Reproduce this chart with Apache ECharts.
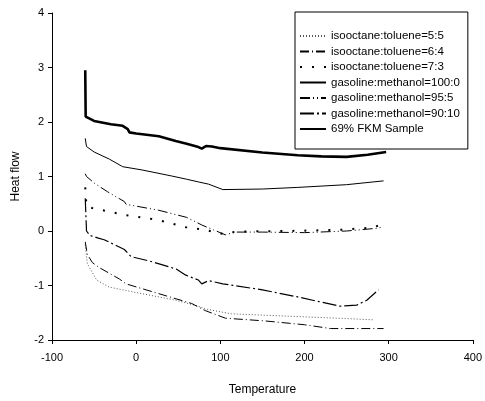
<!DOCTYPE html>
<html>
<head>
<meta charset="utf-8">
<script src="https://cdn.jsdelivr.net/npm/echarts@6/dist/echarts.min.js"></script>
<style>
  body { margin: 0; background: #fff; }
  #chartMain { width: 485px; height: 401px; }
</style>
</head>
<body>
<div id="chartMain"></div>
<script>
    // [temperature, heat flow]
    var iso55 = [[-60.5, -0.25], [-58, -0.6], [-47, -0.9], [-32, -1.03], [7, -1.15], [47, -1.27], [74, -1.38],
        [82, -1.43], [113, -1.52], [192, -1.57], [240, -1.6], [282, -1.63]];
    var iso64 = [[-60.5, -0.2], [-58, -0.43], [-52, -0.58], [-44, -0.67], [-20, -0.88], [-12, -0.97], [27, -1.15],
        [66, -1.33], [82, -1.46], [106, -1.6], [153, -1.65], [200, -1.72], [231, -1.79], [294, -1.79]];
    var iso73 = [[-60.5, 0.8], [-59, 0.45], [-52, 0.42], [-12, 0.29], [27, 0.2], [59, 0.07], [82, 0.02],
        [100, -0.05], [120, -0.01], [180, 0.0], [240, 0.02], [280, 0.06], [292, 0.12]];
    var gas100 = [[-60.5, 1.7], [-59, 1.55], [-50, 1.45], [-32, 1.32], [-16, 1.18], [7, 1.12], [42, 1.01],
        [60, 0.95], [74, 0.9], [86, 0.86], [103, 0.76], [150, 0.77], [192, 0.8], [250, 0.85], [294, 0.92]];
    var gas95 = [[-60.5, 1.05], [-59, 1.0], [-49, 0.87], [-34, 0.72], [-14, 0.54], [-12, 0.49], [27, 0.38],
        [60, 0.25], [78, 0.11], [92, 0.02], [106, -0.07], [118, -0.02], [150, -0.02], [200, -0.03],
        [250, 0.0], [286, 0.05], [292, 0.07]];
    var gas90 = [[-60.5, 0.6], [-59, 0.0], [-55, -0.08], [-45, -0.13], [-38, -0.16], [-14, -0.34], [-6, -0.47],
        [18, -0.56], [48, -0.7], [59, -0.81], [74, -0.9], [78, -0.97], [86, -0.91], [103, -0.97],
        [150, -1.08], [192, -1.21], [242, -1.38], [262, -1.36], [274, -1.27], [288, -1.08]];
    var fkm = [[-60.5, 2.95], [-60, 2.1], [-58, 2.08], [-50, 2.02], [-30, 1.96], [-16, 1.93], [-10, 1.87],
        [-8, 1.81], [0, 1.79], [27, 1.74], [47, 1.65], [60, 1.6], [74, 1.54], [78, 1.51], [83, 1.56],
        [90, 1.55], [100, 1.52], [150, 1.44], [192, 1.39], [220, 1.37], [250, 1.36], [275, 1.4], [297, 1.45]];

    var seriesNames = ['isooctane:toluene=5:5', 'isooctane:toluene=6:4', 'isooctane:toluene=7:3',
        'gasoline:methanol=100:0', 'gasoline:methanol=95:5', 'gasoline:methanol=90:10', '69% FKM Sample'];
    var seriesData = [iso55, iso64, iso73, gas100, gas95, gas90, fkm];
    var lineStyles = [
        { width: 1, type: [1, 2], color: '#555' },
        { width: 1, type: [9, 3, 1, 3], color: '#000' },
        { width: 2, type: [2, 10], color: '#000' },
        { width: 1, type: 'solid', color: '#000' },
        { width: 1, type: [10, 3, 1, 3, 1, 3], color: '#000' },
        { width: 1.2, type: [14, 3, 2, 3], color: '#000' },
        { width: 2.6, type: 'solid', color: '#000' }
    ];

    var myChart = echarts.init(document.getElementById('chartMain'));
    var font = 'Liberation Sans, Arial, sans-serif';

    myChart.setOption({
        animation: false,
        textStyle: { fontFamily: font },
        grid: { left: 52, right: 8, top: 13, bottom: 56 },
        legend: {
            orient: 'vertical',
            left: 295,
            top: 12,
            width: 178,
            itemWidth: 26,
            itemHeight: 11,
            itemGap: 3.5,
            padding: [18, 8, 14, 4],
            borderColor: '#000',
            borderWidth: 1,
            itemStyle: { opacity: 0, borderWidth: 0 },
            textStyle: { color: '#000', fontSize: 11.5, fontFamily: font },
            data: seriesNames
        },
        xAxis: {
            type: 'value',
            min: -100,
            max: 400,
            interval: 100,
            name: 'Temperature',
            nameLocation: 'middle',
            nameGap: 44,
            nameTextStyle: { color: '#000', fontSize: 12 },
            splitLine: { show: false },
            axisLine: { onZero: false, lineStyle: { color: '#000' } },
            axisTick: { lineStyle: { color: '#000' }, length: 4 },
            axisLabel: { color: '#000', fontSize: 11, margin: 12 }
        },
        yAxis: {
            type: 'value',
            min: -2,
            max: 4,
            interval: 1,
            name: 'Heat flow',
            nameLocation: 'middle',
            nameGap: 30,
            nameTextStyle: { color: '#000', fontSize: 12 },
            splitLine: { show: false },
            axisLine: { show: true, onZero: false, lineStyle: { color: '#000' } },
            axisTick: { show: true, lineStyle: { color: '#000' }, length: 4 },
            axisLabel: { color: '#000', fontSize: 11, margin: 8 }
        },
        series: seriesNames.map(function (name, i) {
            return {
                name: name,
                type: 'line',
                data: seriesData[i],
                symbol: 'none',
                lineStyle: lineStyles[i],
                itemStyle: { color: lineStyles[i].color }
            };
        })
    });
</script>
</body>
</html>
